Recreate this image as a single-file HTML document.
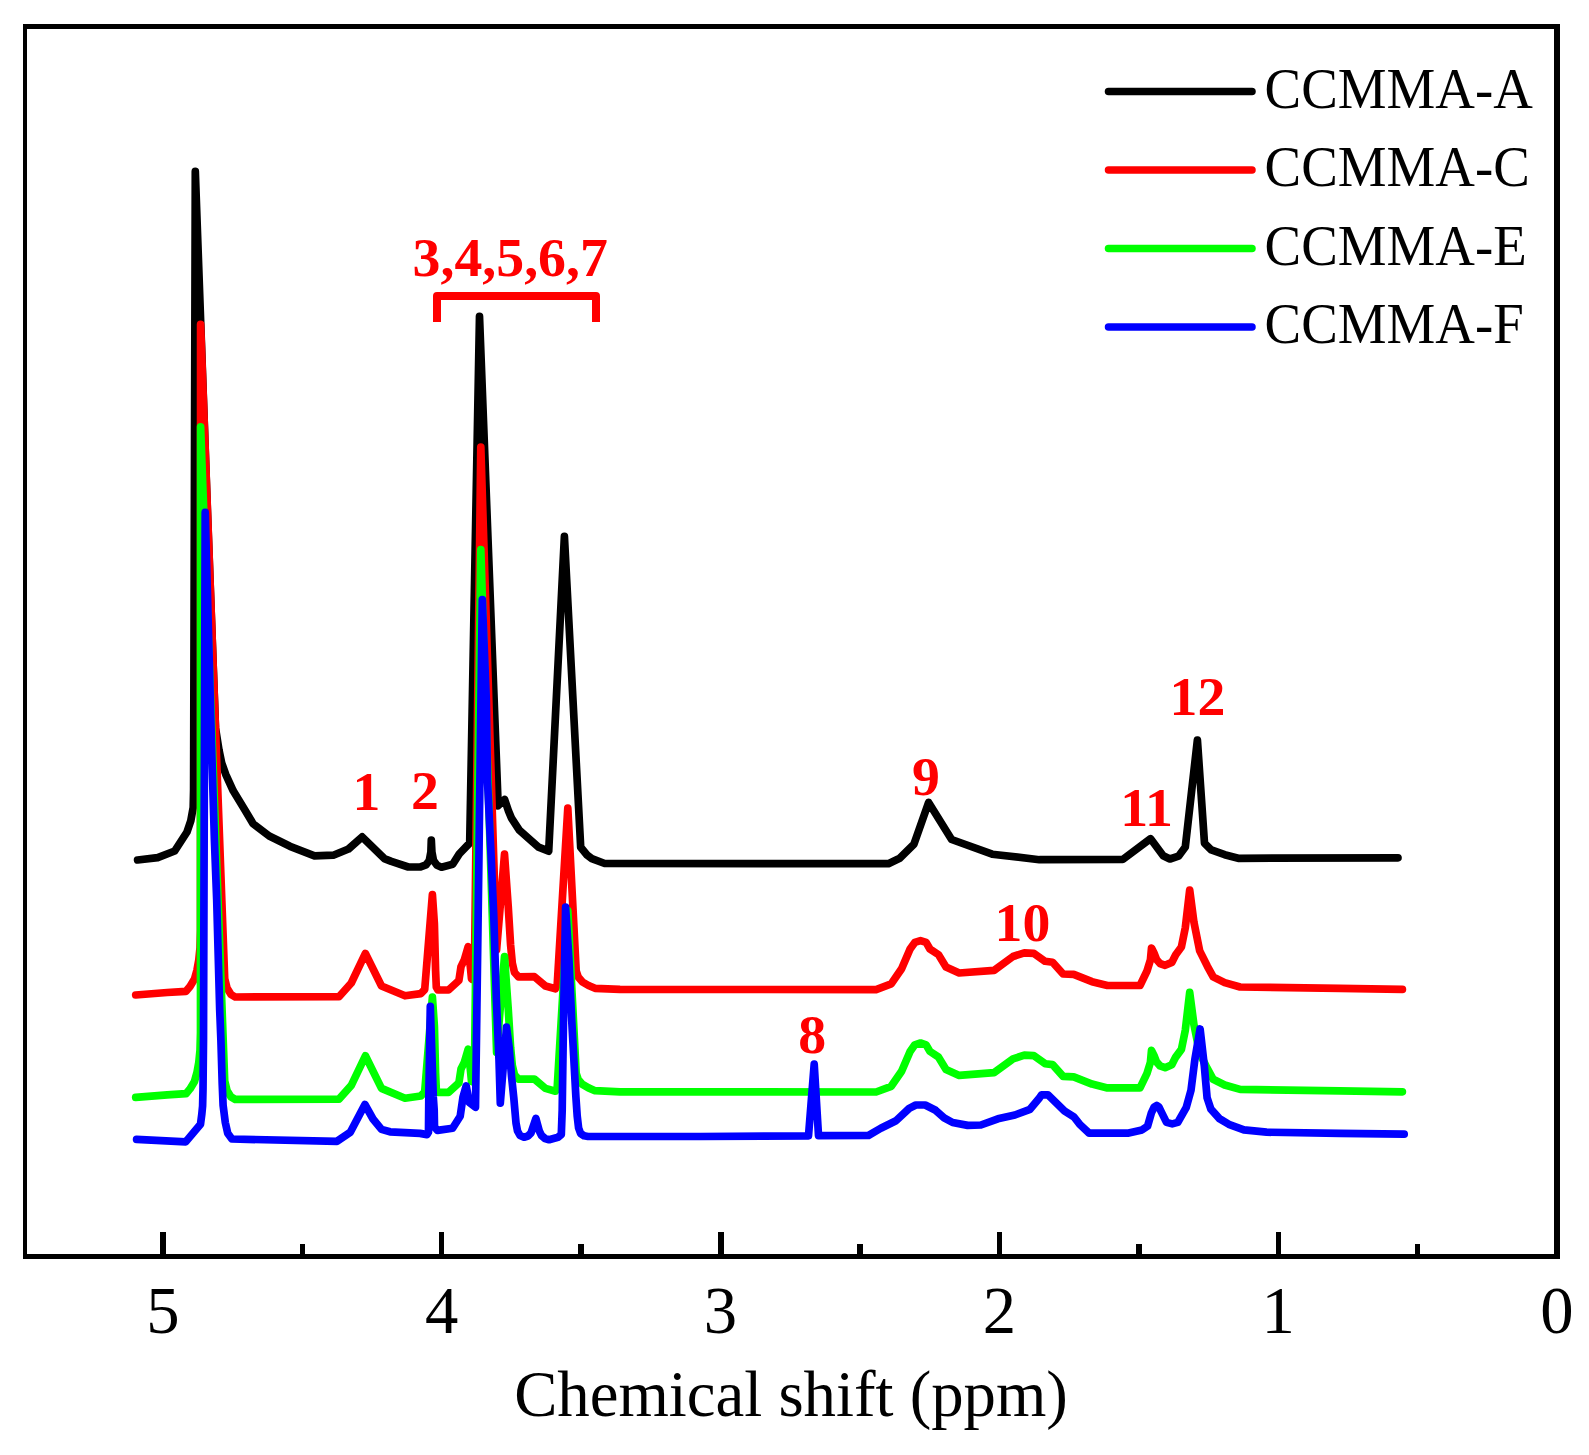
<!DOCTYPE html>
<html><head><meta charset="utf-8"><title>NMR</title>
<style>
html,body{margin:0;padding:0;background:#fff;}
svg{display:block}
text{font-family:"Liberation Serif",serif;}
.ax{font-size:66.7px;fill:#000}
.lg{font-size:56.8px;fill:#000}
.pk{font-size:55.8px;font-weight:bold;fill:#f00}
</style></head><body>
<svg width="1589" height="1455" viewBox="0 0 1589 1455">
<rect x="0" y="0" width="1589" height="1455" fill="#fff"/>
<g fill="#000" shape-rendering="crispEdges">
<rect x="23" y="24" width="4" height="1235"/>
<rect x="23" y="24" width="1537" height="5"/>
<rect x="1554" y="24" width="6" height="1235"/>
<rect x="23" y="1254" width="1537" height="5"/>
<rect x="160" y="1232" width="6" height="23"/>
<rect x="439" y="1232" width="5" height="23"/>
<rect x="718" y="1232" width="6" height="23"/>
<rect x="997" y="1232" width="5" height="23"/>
<rect x="1276" y="1232" width="5" height="23"/>
<rect x="300" y="1244" width="5" height="11"/>
<rect x="578" y="1244" width="6" height="11"/>
<rect x="857" y="1244" width="6" height="11"/>
<rect x="1136" y="1244" width="6" height="11"/>
<rect x="1415" y="1244" width="5" height="11"/>
</g>
<polyline points="137.6,860.0 157.7,857.6 174.7,851.0 187.0,832.0 190.8,820.8 193.2,807.5 193.6,790.0 195.3,171.4 207.0,500.0 215.5,728.0 219.0,750.0 221.7,763.0 225.7,774.3 233.2,790.8 244.6,809.5 253.1,823.7 269.2,836.0 290.0,846.3 314.5,855.8 333.3,855.2 348.5,849.0 362.2,836.9 384.3,858.6 391.3,861.4 408.3,867.0 420.6,866.8 426.0,864.8 429.3,860.5 430.9,852.0 431.3,840.0 431.9,852.0 433.5,860.5 437.0,865.3 441.5,867.2 452.7,864.3 459.3,853.9 469.7,843.0 479.5,316.4 497.8,796.0 497.8,806.0 504.6,799.5 508.5,811.0 511.3,817.8 519.3,830.2 528.3,838.2 538.5,847.2 548.7,851.2 564.4,536.4 580.7,847.2 587.2,855.2 591.8,858.6 604.7,863.5 888.4,863.7 899.7,858.3 913.9,844.2 928.6,802.5 951.6,839.5 992.2,854.2 1039.4,859.7 1122.7,859.5 1150.6,838.7 1163.2,855.7 1169.9,859.0 1178.5,856.2 1185.3,847.0 1197.4,740.0 1204.5,843.2 1211.3,849.9 1224.7,854.7 1238.2,858.3 1398.0,857.8" fill="none" stroke="#000" stroke-width="7.7" stroke-linejoin="round" stroke-linecap="round"/>
<polyline points="135.7,995.0 167.2,992.5 186.0,991.3 190.0,986.5 194.5,979.0 197.0,970.0 198.8,960.0 200.0,948.0 200.5,930.0 200.6,324.4 224.7,978.6 227.0,988.0 231.0,994.5 235.2,997.0 339.0,996.7 351.3,983.0 365.4,953.4 381.5,986.0 405.0,995.8 420.8,993.6 424.7,989.5 432.4,894.6 434.4,924.0 435.6,970.7 436.3,987.0 438.0,990.0 448.5,990.0 458.9,980.5 461.0,966.6 464.4,959.7 468.2,946.7 470.6,969.4 471.5,979.0 474.3,980.0 480.8,447.2 496.6,950.0 504.5,854.2 508.2,906.0 510.6,945.0 512.3,963.0 514.5,972.5 518.5,976.8 534.3,976.6 545.4,986.0 555.5,988.8 557.2,985.0 567.8,808.2 576.2,971.0 578.2,977.0 582.5,982.0 588.5,985.5 595.0,988.3 620.0,989.4 876.1,989.6 891.2,983.9 901.6,968.8 910.1,949.0 914.8,942.4 920.5,940.6 926.1,942.4 929.9,949.0 938.4,954.6 946.0,967.0 959.2,973.0 994.1,970.3 1013.0,956.5 1024.3,952.8 1033.8,953.3 1045.1,961.3 1052.6,962.2 1063.1,974.0 1073.7,974.4 1092.0,981.7 1107.4,985.5 1140.0,985.5 1147.0,971.0 1150.4,960.0 1151.5,948.0 1154.0,953.0 1156.5,959.5 1160.0,963.5 1165.1,965.3 1171.8,962.4 1175.7,954.7 1181.4,947.0 1185.3,927.8 1189.7,890.0 1193.9,922.0 1199.7,950.9 1207.4,966.3 1213.2,976.9 1224.7,982.6 1240.1,987.0 1340.0,988.4 1402.4,989.4" fill="none" stroke="#f00" stroke-width="7.7" stroke-linejoin="round" stroke-linecap="round"/>
<polyline points="135.7,1097.4 167.2,1094.9 186.0,1093.7 190.0,1088.9 194.5,1081.4 197.0,1072.4 198.8,1062.4 200.0,1050.4 200.5,1032.4 200.6,426.8 224.7,1081.0 227.0,1090.4 231.0,1096.9 235.2,1099.4 339.0,1099.1 351.3,1085.4 365.4,1055.8 381.5,1088.4 405.0,1098.2 420.8,1096.0 424.7,1091.9 432.4,997.0 434.4,1026.4 435.6,1073.1 436.3,1089.4 438.0,1092.4 448.5,1092.4 458.9,1082.9 461.0,1069.0 464.4,1062.1 468.2,1049.1 470.6,1071.8 471.5,1081.4 474.3,1082.4 480.8,549.6 496.6,1052.4 504.5,956.6 508.2,1008.4 510.6,1047.4 512.3,1065.4 514.5,1074.9 518.5,1079.2 534.3,1079.0 545.4,1088.4 555.5,1091.2 557.2,1087.4 567.8,910.6 576.2,1073.4 578.2,1079.4 582.5,1084.4 588.5,1087.9 595.0,1090.7 620.0,1091.8 876.1,1092.0 891.2,1086.3 901.6,1071.2 910.1,1051.4 914.8,1044.8 920.5,1043.0 926.1,1044.8 929.9,1051.4 938.4,1057.0 946.0,1069.4 959.2,1075.4 994.1,1072.7 1013.0,1058.9 1024.3,1055.2 1033.8,1055.7 1045.1,1063.7 1052.6,1064.6 1063.1,1076.4 1073.7,1076.8 1092.0,1084.1 1107.4,1087.9 1140.0,1087.9 1147.0,1073.4 1150.4,1062.4 1151.5,1050.4 1154.0,1055.4 1156.5,1061.9 1160.0,1065.9 1165.1,1067.7 1171.8,1064.8 1175.7,1057.1 1181.4,1049.4 1185.3,1030.2 1189.7,992.4 1193.9,1024.4 1199.7,1053.3 1207.4,1068.7 1213.2,1079.3 1224.7,1085.0 1240.1,1089.4 1340.0,1090.8 1402.4,1091.8" fill="none" stroke="#0f0" stroke-width="7.7" stroke-linejoin="round" stroke-linecap="round"/>
<polyline points="136.6,1139.4 185.7,1141.9 200.5,1124.2 201.8,1114.3 202.6,1106.0 203.0,1089.5 203.5,1040.0 205.2,512.4 211.4,740.0 214.4,840.0 216.7,900.0 219.7,1010.0 220.9,1040.0 222.2,1083.7 223.1,1105.2 225.3,1122.5 227.7,1133.2 231.9,1139.0 337.0,1141.3 350.3,1132.2 364.9,1104.5 373.0,1119.0 381.5,1129.4 390.0,1131.8 420.0,1133.4 427.0,1134.6 428.5,1132.0 428.8,1097.0 430.3,1006.4 433.3,1097.0 434.2,1110.0 434.5,1127.0 437.5,1130.4 452.6,1128.2 460.2,1116.3 463.0,1097.0 466.2,1085.9 469.3,1102.5 475.5,1107.3 477.0,1000.0 478.9,860.0 479.9,781.0 482.3,599.6 486.3,700.0 487.5,781.0 491.3,860.0 493.8,917.0 496.4,1000.0 499.0,1060.0 500.3,1103.2 506.5,1027.2 509.2,1048.0 511.6,1077.0 513.8,1098.0 516.0,1123.0 517.5,1131.0 520.0,1135.5 524.0,1137.2 528.0,1136.0 531.0,1133.0 535.9,1118.4 539.3,1131.0 541.5,1135.5 545.0,1138.5 549.1,1139.7 558.0,1137.3 561.3,1134.5 562.2,1110.0 563.5,1020.0 565.6,907.2 568.8,957.0 571.7,1020.0 573.8,1058.5 575.9,1097.0 577.2,1116.0 578.6,1128.0 580.6,1133.5 584.0,1135.8 588.0,1136.5 700.0,1136.5 808.5,1135.8 814.2,1064.2 818.5,1135.6 868.6,1135.4 880.8,1128.2 896.0,1120.7 909.2,1108.4 915.8,1105.0 925.2,1105.0 935.6,1110.3 944.1,1117.8 952.6,1122.5 967.7,1125.4 980.9,1125.0 997.9,1118.8 1014.9,1115.0 1030.0,1109.3 1039.4,1098.0 1041.5,1094.8 1047.9,1094.8 1064.5,1111.0 1074.0,1117.0 1079.6,1124.2 1089.1,1133.1 1128.7,1133.1 1142.0,1129.9 1147.6,1126.1 1151.4,1112.9 1154.2,1107.0 1156.7,1105.5 1158.9,1107.0 1161.8,1112.9 1166.5,1122.4 1172.2,1123.9 1177.8,1122.4 1186.3,1107.3 1191.0,1090.3 1194.8,1060.0 1200.1,1029.0 1204.3,1065.7 1207.1,1097.8 1210.9,1109.2 1219.4,1118.6 1228.8,1124.3 1243.9,1129.9 1266.6,1132.2 1340.0,1133.3 1404.2,1134.1" fill="none" stroke="#00f" stroke-width="7.7" stroke-linejoin="round" stroke-linecap="round"/>
<polyline points="437,322 437,296 596,296 596,322" fill="none" stroke="#f00" stroke-width="8" stroke-linejoin="round" stroke-linecap="butt"/>
<line x1="1108.5" y1="91.4" x2="1252" y2="91.4" stroke="#000" stroke-width="7.5" stroke-linecap="round"/>
<text class="lg" transform="translate(1264.6,107.8) scale(0.966,1)">CCMMA-A</text>
<line x1="1108.5" y1="169.9" x2="1252" y2="169.9" stroke="#f00" stroke-width="7.5" stroke-linecap="round"/>
<text class="lg" transform="translate(1264.6,186.3) scale(0.966,1)">CCMMA-C</text>
<line x1="1108.5" y1="248.4" x2="1252" y2="248.4" stroke="#0f0" stroke-width="7.5" stroke-linecap="round"/>
<text class="lg" transform="translate(1264.6,264.8) scale(0.966,1)">CCMMA-E</text>
<line x1="1108.5" y1="326.9" x2="1252" y2="326.9" stroke="#00f" stroke-width="7.5" stroke-linecap="round"/>
<text class="lg" transform="translate(1264.6,343.3) scale(0.966,1)">CCMMA-F</text>
<text class="ax" x="163" y="1333" text-anchor="middle">5</text>
<text class="ax" x="441.6" y="1333" text-anchor="middle">4</text>
<text class="ax" x="720.5" y="1333" text-anchor="middle">3</text>
<text class="ax" x="999.4" y="1333" text-anchor="middle">2</text>
<text class="ax" x="1278.2" y="1333" text-anchor="middle">1</text>
<text class="ax" x="1557" y="1333" text-anchor="middle">0</text>
<text class="ax" style="font-size:66.2px" transform="translate(791,1416) scale(0.978,1)" text-anchor="middle">Chemical shift (ppm)</text>
<text class="pk" x="366.5" y="810.3" text-anchor="middle">1</text>
<text class="pk" x="425" y="809.3" text-anchor="middle">2</text>
<text class="pk" x="510.2" y="276.3" text-anchor="middle">3,4,5,6,7</text>
<text class="pk" x="812.1" y="1053" text-anchor="middle">8</text>
<text class="pk" x="926" y="795" text-anchor="middle">9</text>
<text class="pk" x="1022.4" y="941.3" text-anchor="middle">10</text>
<text class="pk" x="1146.6" y="826.3" text-anchor="middle">11</text>
<text class="pk" x="1197.5" y="714.8" text-anchor="middle">12</text>
</svg></body></html>
